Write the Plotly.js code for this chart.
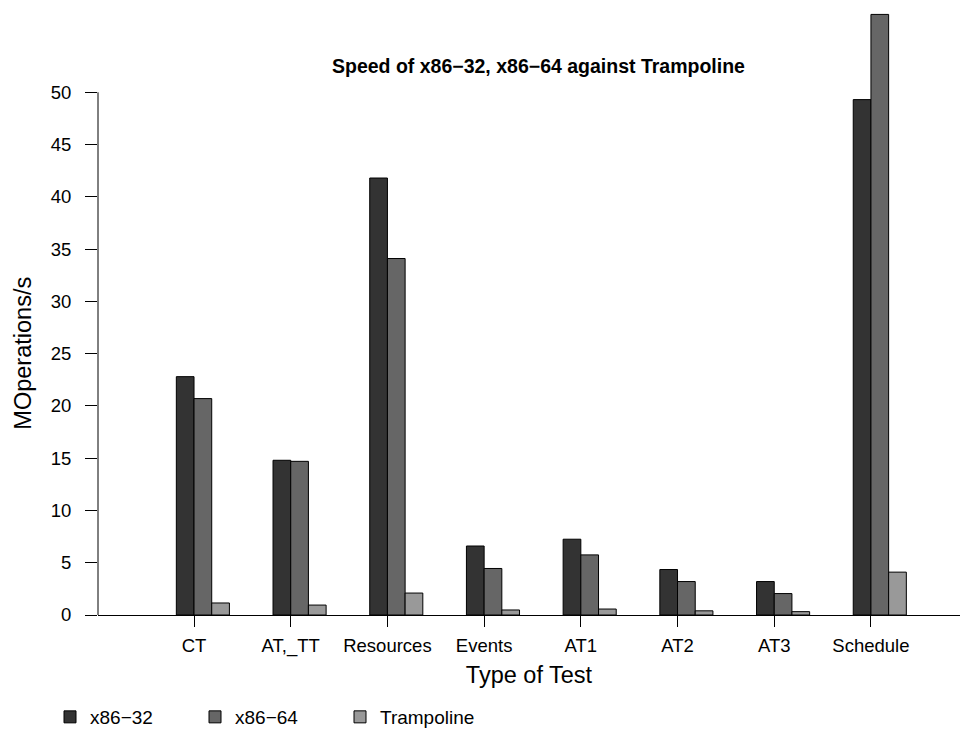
<!DOCTYPE html>
<html>
<head>
<meta charset="utf-8">
<script src="https://cdn.plot.ly/plotly-3.0.1.min.js"></script>
<style>html,body{margin:0;padding:0;background:#fff;}#chart{width:960px;height:731px;}</style>
</head>
<body>
<div id="chart"></div>
<script>
var categories = ["CT", "AT,_TT", "Resources", "Events", "AT1", "AT2", "AT3", "Schedule"];
var seriesNames = ["x86\u221232", "x86\u221264", "Trampoline"];
var x86_32 = [22.8, 14.8, 41.8, 6.6, 7.25, 4.35, 3.2, 49.3];
var x86_64 = [20.7, 14.7, 34.1, 4.45, 5.75, 3.2, 2.05, 57.45];
var trampoline = [1.15, 0.95, 2.1, 0.48, 0.57, 0.4, 0.32, 4.1];
var yTicks = [0, 5, 10, 15, 20, 25, 30, 35, 40, 45, 50];
var seriesColors = ["#333333", "#666666", "#999999"];

var FONT = "Liberation Sans, Arial, Helvetica, sans-serif";
var W = 0.183;
var values = [x86_32, x86_64, trampoline];
var offsets = [-W, 0, W];
var traces = values.map(function (v, i) {
  return {
    type: "bar",
    name: seriesNames[i],
    x: categories,
    y: v,
    width: W,
    offset: offsets[i],
    marker: { color: seriesColors[i], line: { color: "#000000", width: 1 } },
    hoverinfo: "x+y+name"
  };
});

var layout = {
  width: 960,
  height: 731,
  margin: { l: 98, r: 0, t: 0, b: 116, pad: 0 },
  paper_bgcolor: "#ffffff",
  plot_bgcolor: "#ffffff",
  font: { family: FONT, size: 18.5, color: "#000000" },
  barmode: "group",
  title: {
    text: "<b>Speed of x86\u221232, x86\u221264 against Trampoline</b>",
    font: { family: FONT, size: 19.5, color: "#000000" },
    xref: "paper", x: 0.511, xanchor: "center",
    yref: "container", y: 1 - 66 / 731, yanchor: "middle"
  },
  xaxis: {
    type: "category",
    range: [-0.993, 7.921],
    showline: true, linecolor: "#000000", linewidth: 1,
    ticks: "outside", ticklen: 11, tickcolor: "#000000", tickwidth: 1,
    showgrid: false, zeroline: false,
    tickfont: { family: FONT, size: 18.5, color: "#000000" },
    ticklabelstandoff: 3,
    title: { text: "Type of Test", font: { family: FONT, size: 23.5, color: "#000000" }, standoff: 10 },
    fixedrange: true
  },
  yaxis: {
    range: [0, 615 / 10.454],
    showline: false,
    tickmode: "array", tickvals: yTicks, ticktext: yTicks.map(String),
    ticks: "outside", ticklen: 12, tickcolor: "#000000", tickwidth: 1,
    showgrid: false, zeroline: false,
    tickfont: { family: FONT, size: 18.5, color: "#000000" },
    ticklabelstandoff: 10,
    fixedrange: true
  },
  shapes: [{
    type: "line", xref: "paper", yref: "y",
    x0: 0, x1: 0, y0: 0, y1: 50,
    line: { color: "#000000", width: 1 }
  }],
  annotations: [{
    text: "MOperations/s", textangle: -90,
    xref: "paper", yref: "y", x: (23 - 98) / 862, y: 25,
    xanchor: "center", yanchor: "middle", showarrow: false,
    font: { family: FONT, size: 23.5, color: "#000000" }
  }],
  showlegend: true,
  legend: {
    orientation: "h",
    xref: "container", yref: "container",
    x: 50 / 960, xanchor: "left",
    y: 1 - 717 / 731, yanchor: "middle",
    entrywidth: 100, entrywidthmode: "pixels",
    font: { family: FONT, size: 19, color: "#000000" },
    bgcolor: "rgba(0,0,0,0)", borderwidth: 0,
    traceorder: "normal"
  }
};

Plotly.newPlot("chart", traces, layout, { displayModeBar: false, staticPlot: true });
</script>
</body>
</html>
